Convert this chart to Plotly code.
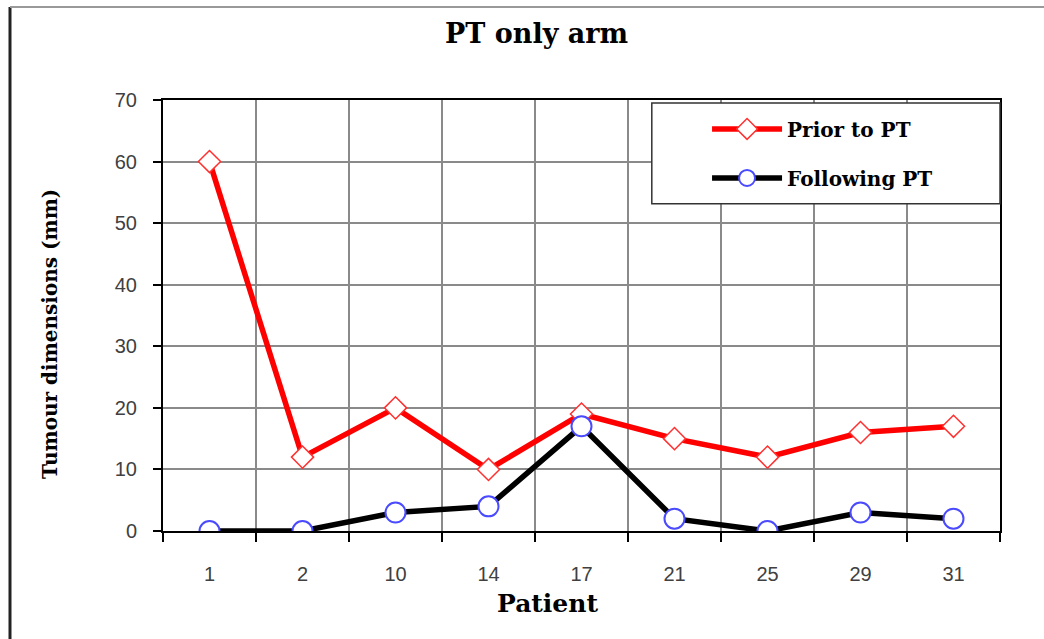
import plotly.graph_objects as go

patients = ["1", "2", "10", "14", "17", "21", "25", "29", "31"]
prior_pt = [60, 12, 20, 10, 19, 15, 12, 16, 17]
following_pt = [0, 0, 3, 4, 17, 2, 0, 3, 2]
y_ticks = [0, 10, 20, 30, 40, 50, 60, 70]

serif = "DejaVu Serif"
sans = "Liberation Sans"

fig = go.Figure()
fig.add_trace(go.Scatter(
    x=patients, y=prior_pt, name="<b>Prior to PT</b>", mode="lines+markers",
    line=dict(color="#ff0000", width=5.5),
    marker=dict(symbol="diamond", size=17, color="white",
                line=dict(color="#ff3030", width=1.5)),
    legendgroup="a",
))
fig.add_trace(go.Scatter(
    x=patients, y=following_pt, name="<b>Following PT</b>", mode="lines+markers",
    line=dict(color="#000000", width=5.5),
    marker=dict(symbol="circle", size=20, color="white",
                line=dict(color="#4a4aff", width=2)),
    legendgroup="b",
))

fig.update_layout(
    width=1044, height=639,
    paper_bgcolor="white", plot_bgcolor="white",
    margin=dict(l=163, r=44, t=100, b=108),
    title=dict(text="<b>PT only arm</b>", x=0.514, xanchor="center",
               y=0.948, yanchor="middle",
               font=dict(family=serif, size=27, color="black")),
    showlegend=True,
    legend=dict(x=0.650, xanchor="left", y=0.978, yanchor="top",
                bgcolor="rgba(0,0,0,0)", borderwidth=0,
                font=dict(family=serif, size=20, color="black"),
                itemwidth=70, traceorder="grouped", tracegroupgap=20),
    xaxis=dict(
        type="category", tickson="boundaries", ticks="outside", ticklen=9,
        tickcolor="black", tickwidth=1.5,
        showgrid=True, gridcolor="#8a8a8a", gridwidth=1.5,
        showline=True, linecolor="black", linewidth=2, mirror=True,
        tickfont=dict(family=sans, size=20, color="#404040"),
        ticklabelstandoff=24,
        range=[-0.5, 8.5],
    ),
    yaxis=dict(
        range=[0, 70], tickvals=y_ticks, ticks="outside", ticklen=8,
        tickcolor="black", tickwidth=1.5,
        showgrid=True, gridcolor="#8a8a8a", gridwidth=1.5,
        showline=True, linecolor="black", linewidth=2, mirror=True,
        zeroline=False,
        tickfont=dict(family=sans, size=20, color="#404040"),
        ticklabelstandoff=12,
    ),
    annotations=[
        dict(text="<b>Patient</b>", xref="paper", yref="paper",
             x=0.459, y=-0.169, xanchor="center", yanchor="middle",
             showarrow=False,
             font=dict(family=serif, size=25, color="black")),
        dict(text="<b>Tumour dimensions (mm)</b>", xref="paper", yref="paper",
             x=-0.135, y=0.457, xanchor="center", yanchor="middle",
             textangle=-90, showarrow=False,
             font=dict(family=serif, size=20, color="black")),
    ],
    shapes=[
        dict(type="rect", xref="paper", yref="paper",
             x0=0.584, x1=1.0, y0=0.759, y1=0.993,
             line=dict(color="#333333", width=1.5), fillcolor="white",
             layer="above"),
        dict(type="line", xref="paper", yref="paper",
             x0=-0.1828, x1=-0.1828, y0=1.216, y1=-0.26,
             line=dict(color="#222222", width=3)),
        dict(type="line", xref="paper", yref="paper",
             x0=-0.1828, x1=1.06, y0=1.216, y1=1.216,
             line=dict(color="#999999", width=2)),
    ],
)

fig.write_html("out.html", config={"displayModeBar": False},
               post_script="document.body.style.margin='0';document.body.style.overflow='hidden';")
